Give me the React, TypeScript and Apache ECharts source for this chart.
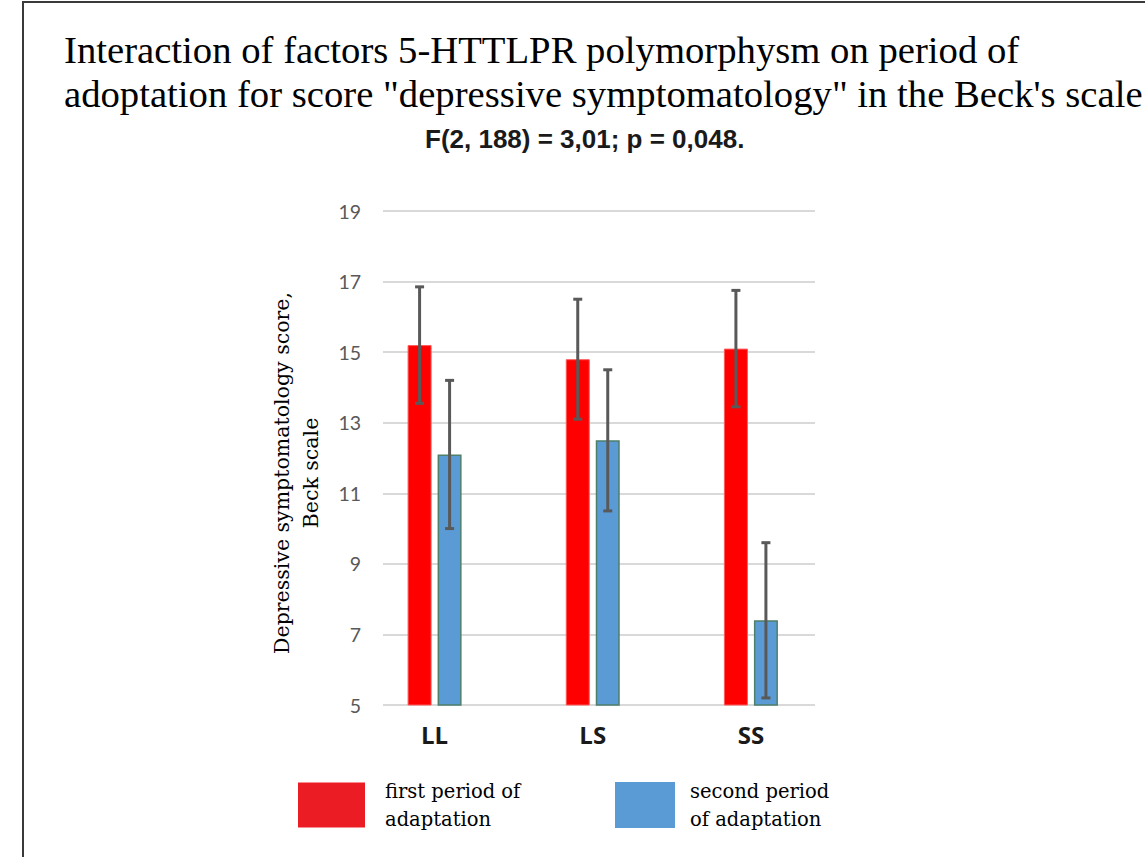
import React, { useEffect, useRef } from "react";
import * as echarts from "echarts";

// ---- data ----
const categories = ["LL", "LS", "SS"];
const firstPeriod = [15.2, 14.8, 15.1];
const firstError = [1.65, 1.7, 1.65];
const secondPeriod = [12.1, 12.5, 7.4];
const secondError = [2.1, 2.0, 2.2];
const yMin = 5;
const yMax = 19;
const yStep = 2;
const seriesNames = ["first period of\nadaptation", "second period\nof adaptation"];
const titleLines = [
  "Interaction of factors 5-HTTLPR polymorphysm on period of",
  'adoptation for score "depressive symptomatology" in the Beck\'s scale',
];
const subtitleText = "F(2, 188) = 3,01; p = 0,048.";
const yAxisNameLines = ["Depressive symptomatology score,", "Beck scale"];

const RED = "#FF0000";
const BLUE = "#5B9BD5";

function errorData(values: number[], errs: number[], side: number) {
  return values.map((v, i) => [i, v - errs[i], v + errs[i], side]);
}

export default function App() {
  const ref = useRef<HTMLDivElement>(null);
  useEffect(() => {
    document.body.style.margin = "0";
    const chart = echarts.init(ref.current!, undefined, { renderer: "svg" });
    const errStyle = { stroke: "#595959", lineWidth: 3 };
    const renderErr = (params: any, api: any) => {
      const x = api.value(0);
      const lo = api.value(1);
      const hi = api.value(2);
      const side = api.value(3);
      const top = api.coord([x, hi]);
      const bot = api.coord([x, lo]);
      const cx = top[0] + (side === 0 ? -15 : 15);
      const cap = 4.5;
      return {
        type: "group",
        children: [
          { type: "line", shape: { x1: cx, y1: top[1], x2: cx, y2: bot[1] }, style: errStyle },
          { type: "line", shape: { x1: cx - cap, y1: top[1], x2: cx + cap, y2: top[1] }, style: errStyle },
          { type: "line", shape: { x1: cx - cap, y1: bot[1], x2: cx + cap, y2: bot[1] }, style: errStyle },
        ],
      };
    };
    const legendText = {
      fontFamily: "DejaVu Serif",
      fontSize: 19.5,
      lineHeight: 28,
      color: "#000",
    };
    const option: any = {
      animation: false,
      backgroundColor: "#ffffff",
      title: [
        {
          text: titleLines.join("\n"),
          left: 64,
          top: 28,
          padding: 0,
          textStyle: {
            fontFamily: "Liberation Serif",
            fontWeight: "normal",
            fontSize: 38.7,
            lineHeight: 44,
            color: "#000",
          },
        },
        {
          text: subtitleText,
          left: 425,
          top: 126,
          padding: 0,
          textStyle: {
            fontFamily: "Liberation Sans",
            fontWeight: "bold",
            fontSize: 26,
            color: "#1a1a1a",
          },
        },
      ],
      graphic: [
        {
          type: "rect",
          shape: { x: 23, y: 2, width: 1300, height: 1000 },
          style: { fill: "none", stroke: "#3a3a3a", lineWidth: 2 },
          silent: true,
        },
      ],
      legend: [
        {
          data: [{ name: seriesNames[0], itemStyle: { color: "#EC1C24", borderWidth: 0 } }],
          left: 298,
          top: 777,
          padding: 0,
          icon: "rect",
          itemWidth: 67,
          itemHeight: 45,
          selectedMode: false,
          textStyle: { ...legendText, padding: [0, 0, 0, 15] },
        },
        {
          data: [{ name: seriesNames[1], itemStyle: { color: BLUE, borderWidth: 0 } }],
          left: 615,
          top: 777,
          padding: 0,
          icon: "rect",
          itemWidth: 60,
          itemHeight: 46,
          selectedMode: false,
          textStyle: { ...legendText, padding: [0, 0, 0, 10] },
        },
      ],
      grid: [
        { left: 383, right: 330, top: 211, bottom: 152 },
        { left: 355.5, right: 315, top: 211, bottom: 152 },
      ],
      xAxis: [
        { gridIndex: 0, type: "category", data: categories, show: false },
        {
          gridIndex: 1,
          type: "category",
          data: categories,
          axisLine: { show: false },
          axisTick: { show: false },
          splitLine: { show: false },
          axisLabel: {
            fontFamily: "Open Sans",
            fontWeight: "bold",
            fontSize: 24,
            color: "#1a1a1a",
            margin: 17,
          },
        },
      ],
      yAxis: [
        {
          gridIndex: 0,
          type: "value",
          min: yMin,
          max: yMax,
          interval: yStep,
          axisLine: { show: false },
          axisTick: { show: false },
          axisLabel: {
            fontFamily: "Lato",
            fontSize: 19.5,
            color: "#595959",
            margin: 22,
          },
          splitLine: { lineStyle: { color: "#d9d9d9", width: 2 } },
          name: yAxisNameLines.join("\n"),
          nameLocation: "middle",
          nameRotate: 90,
          nameGap: 58,
          nameTextStyle: {
            fontFamily: "DejaVu Serif",
            fontSize: 20.5,
            lineHeight: 29,
            color: "#000",
            padding: [0, 30, 0, 0],
          },
        },
        { gridIndex: 1, type: "value", min: yMin, max: yMax, interval: yStep, show: false },
      ],
      series: [
        {
          name: seriesNames[0],
          type: "bar",
          xAxisIndex: 1,
          yAxisIndex: 1,
          data: firstPeriod,
          barWidth: 24,
          barGap: "25%",
          itemStyle: { color: RED, borderColor: "#ff5a5a", borderWidth: 1 },
        },
        {
          name: seriesNames[1],
          type: "bar",
          xAxisIndex: 1,
          yAxisIndex: 1,
          data: secondPeriod,
          barWidth: 24,
          barGap: "25%",
          itemStyle: { color: BLUE, borderColor: "#4E7F6B", borderWidth: 1.5 },
        },
        {
          type: "custom",
          xAxisIndex: 1,
          yAxisIndex: 1,
          z: 5,
          encode: { x: 0, y: [1, 2] },
          data: errorData(firstPeriod, firstError, 0),
          renderItem: renderErr,
          silent: true,
        },
        {
          type: "custom",
          xAxisIndex: 1,
          yAxisIndex: 1,
          z: 5,
          encode: { x: 0, y: [1, 2] },
          data: errorData(secondPeriod, secondError, 1),
          renderItem: renderErr,
          silent: true,
        },
      ],
    };
    chart.setOption(option);
    return () => chart.dispose();
  }, []);
  return <div ref={ref} style={{ width: 1145, height: 857 }} />;
}
